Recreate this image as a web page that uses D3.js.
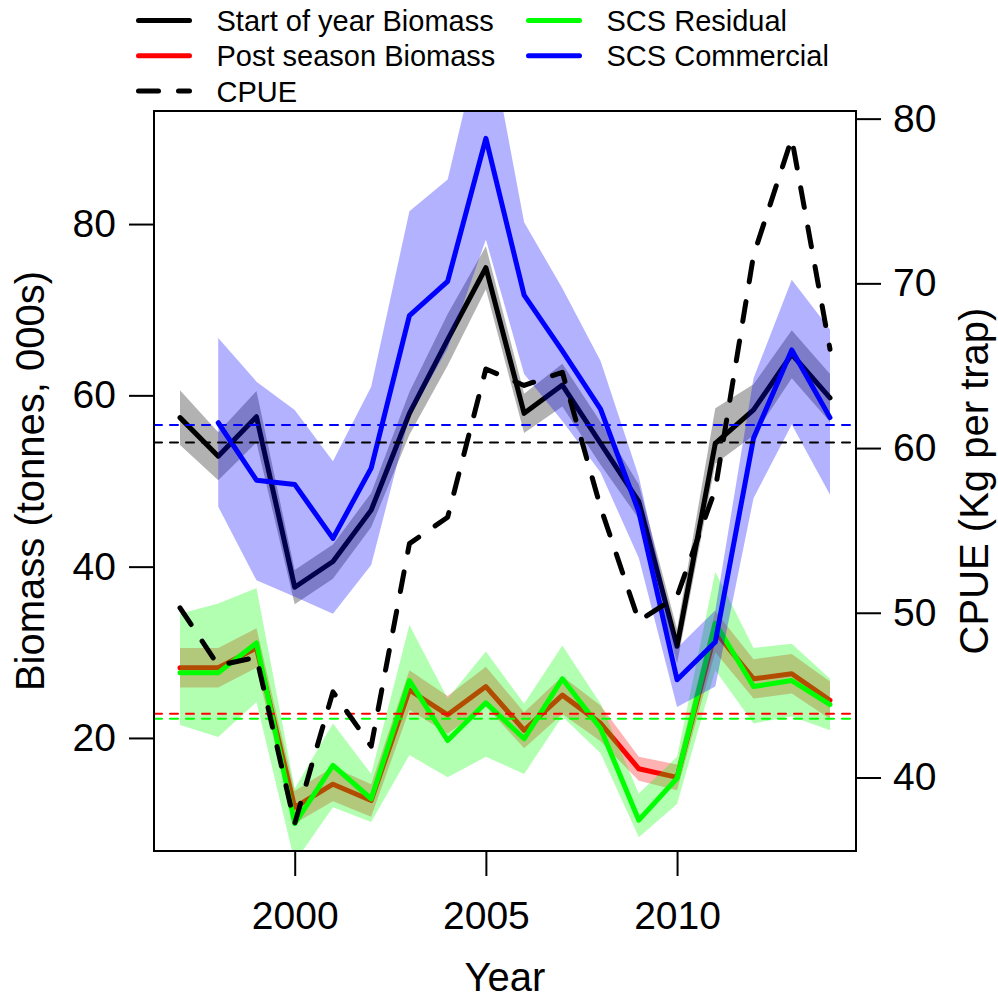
<!DOCTYPE html>
<html>
<head>
<meta charset="utf-8">
<script src="https://cdn.jsdelivr.net/npm/d3@7"></script>
<style>
  body { margin: 0; background: #fff; }
  svg { font-family: "Liberation Sans", Arial, sans-serif; }
</style>
</head>
<body>
<div id="chart"></div>
<script>
var years = [1997, 1998, 1999, 2000, 2001, 2002, 2003, 2004, 2005, 2006, 2007, 2008, 2009, 2010, 2011, 2012, 2013, 2014]

// biomass series, tonnes (000s), with lower / upper interval
var startBiomass = [57.4, 52.9, 57.5, 37.6, 40.6, 46.6, 57.9, 66.5, 74.9, 57.9, 61.2, 54.4, 47.6, 30.7, 54.4, 58.3, 64.8, 59.7]
var startLower   = [54.2, 50.1, 54.5, 35.6, 38.6, 44.6, 55.4, 63.5, 72.4, 55.6, 58.7, 51.9, 45.6, 28.7, 52.0, 55.3, 62.0, 56.9]
var startUpper   = [60.6, 55.7, 60.5, 39.6, 42.6, 48.6, 60.4, 69.5, 77.4, 60.2, 63.7, 56.9, 49.6, 32.7, 58.5, 61.3, 67.6, 62.5]

var postBiomass = [28.2, 28.2, 30.5, 11.9, 14.6, 12.7, 25.6, 22.7, 26.0, 20.9, 25.0, 21.7, 16.4, 15.4, 32.4, 26.9, 27.5, 24.4]
var postLower   = [25.9, 25.9, 28.2, 10.0, 12.6, 10.8, 23.3, 20.5, 23.7, 18.8, 22.8, 19.6, 15.0, 13.9, 30.0, 24.6, 25.2, 22.2]
var postUpper   = [30.5, 30.5, 32.8, 13.8, 16.6, 14.6, 27.9, 24.9, 28.3, 23.0, 27.2, 23.8, 17.8, 16.9, 34.8, 29.2, 29.8, 26.6]

var scsResidual   = [27.6, 27.6, 31.1, 10.0, 16.8, 12.9, 26.7, 19.7, 24.1, 19.9, 26.9, 21.1, 10.4, 15.3, 33.4, 26.0, 26.7, 23.9]
var residualLower = [21.5, 20.1, 24.2, 5.5, 11.9, 10.2, 18.0, 15.4, 17.8, 15.8, 22.5, 18.2, 8.4, 12.3, 27.9, 21.7, 22.5, 20.9]
var residualUpper = [34.5, 35.7, 37.5, 14.1, 21.7, 15.8, 33.2, 24.6, 30.1, 24.0, 30.8, 24.0, 13.5, 17.8, 39.4, 30.5, 31.0, 26.9]

var scsCommercial   = [null, 56.8, 50.1, 49.6, 43.3, 51.5, 69.3, 73.3, 90.0, 71.7, 65.2, 58.4, 46.4, 26.8, 31.2, 55.0, 65.3, 57.4]
var commercialLower = [null, 47.0, 38.4, 36.5, 34.5, 40.2, 57.5, 65.5, 78.2, 62.5, 57.0, 51.0, 41.0, 23.6, 26.0, 48.0, 56.6, 48.4]
var commercialUpper = [null, 66.7, 61.6, 58.3, 52.3, 61.0, 81.5, 85.2, 104.0, 80.2, 72.5, 64.0, 50.5, 30.5, 34.9, 62.0, 73.5, 67.7]

// CPUE, kg per trap (right axis)
var cpue = [50.3, 46.8, 47.3, 37.2, 45.2, 41.9, 54.2, 55.8, 64.8, 63.8, 64.6, 56.4, 49.5, 51.0, 57.5, 71.7, 78.8, 66.0]

var biomassLim = [10, 90]
var leftTicks = [20, 40, 60, 80]
var rightTicks = [40, 50, 60, 70, 80]
var yearTicks = [2000, 2005, 2010]

var margin = {top: 111, right: 142, bottom: 147, left: 154}
var width = 998 - margin.left - margin.right
var height = 998 - margin.top - margin.bottom

// R style axis extension of 4%
function rExpand(lim) {
    var d = (lim[1] - lim[0]) * 0.04
    return [lim[0] - d, lim[1] + d]
}

var x = d3.scaleLinear().domain(rExpand(d3.extent(years))).range([0, width])
var yL = d3.scaleLinear().domain(rExpand(biomassLim)).range([height, 0])
var yR = d3.scaleLinear().domain(rExpand(d3.extent(cpue))).range([height, 0])

function zip(vals, lo, hi) {
    return years.map((yr, i) => ({year: yr, v: vals[i], lo: lo ? lo[i] : null, hi: hi ? hi[i] : null}))
}

var svg = d3.select('#chart')
    .append('svg')
    .attr('width', 998)
    .attr('height', 998)

var g = svg.append('g')
    .attr('transform', `translate(${margin.left}, ${margin.top})`)

g.append('clipPath')
    .attr('id', 'plotclip')
    .append('rect')
    .attr('width', width)
    .attr('height', height)

var plot = g.append('g').attr('clip-path', 'url(#plotclip)')

var band = d3.area()
    .defined(d => d.lo != null)
    .x(d => x(d.year))
    .y0(d => yL(d.lo))
    .y1(d => yL(d.hi))

var lineL = d3.line()
    .defined(d => d.v != null)
    .x(d => x(d.year))
    .y(d => yL(d.v))

var series = [
    {vals: startBiomass, lo: startLower, hi: startUpper, color: '#000000', fill: 'rgba(0,0,0,0.3)'},
    {vals: postBiomass, lo: postLower, hi: postUpper, color: '#ff0000', fill: 'rgba(255,0,0,0.3)'},
    {vals: scsResidual, lo: residualLower, hi: residualUpper, color: '#00ff00', fill: 'rgba(0,255,0,0.3)'},
    {vals: scsCommercial, lo: commercialLower, hi: commercialUpper, color: '#0000ff', fill: 'rgba(0,0,255,0.3)'}
]

series.forEach(s => {
    var data = zip(s.vals, s.lo, s.hi)
    plot.append('path')
        .attr('d', band(data))
        .attr('fill', s.fill)
        .attr('stroke', 'none')
    plot.append('path')
        .attr('d', lineL(data))
        .attr('fill', 'none')
        .attr('stroke', s.color)
        .attr('stroke-width', 5)
        .attr('stroke-linejoin', 'round')
        .attr('stroke-linecap', 'round')
})

// mean reference lines
series.slice().reverse().forEach(s => {
    var m = d3.mean(s.vals.filter(v => v != null))
    plot.append('line')
        .attr('x1', 0)
        .attr('x2', width)
        .attr('y1', yL(m))
        .attr('y2', yL(m))
        .attr('stroke', s.color)
        .attr('stroke-width', 2)
        .attr('stroke-dasharray', '8,8')
        .attr('stroke-linecap', 'round')
})

plot.append('path')
    .attr('d', d3.line().x((d, i) => x(years[i])).y(d => yR(d))(cpue))
    .attr('fill', 'none')
    .attr('stroke', '#000')
    .attr('stroke-width', 5)
    .attr('stroke-dasharray', '20,20')
    .attr('stroke-linecap', 'round')
    .attr('stroke-linejoin', 'round')

// axes
function styleAxis(sel) {
    sel.select('.domain').remove()
    sel.selectAll('.tick line').attr('stroke-width', 2)
    sel.selectAll('.tick text')
        .attr('font-size', 39)
        .attr('font-family', '"Liberation Sans", Arial, sans-serif')
        .attr('fill', '#000')
}

g.append('g')
    .call(d3.axisLeft(yL).tickValues(leftTicks).tickSize(25).tickPadding(13))
    .call(styleAxis)

g.append('g')
    .attr('transform', `translate(${width}, 0)`)
    .call(d3.axisRight(yR).tickValues(rightTicks).tickSize(25).tickPadding(12))
    .call(styleAxis)

g.append('g')
    .attr('transform', `translate(0, ${height})`)
    .call(d3.axisBottom(x).tickValues(yearTicks).tickFormat(d3.format('d')).tickSize(25).tickPadding(25))
    .call(styleAxis)

g.append('rect')
    .attr('width', width)
    .attr('height', height)
    .attr('fill', 'none')
    .attr('stroke', '#000')
    .attr('stroke-width', 2)

// axis titles
svg.append('text')
    .attr('x', margin.left + width / 2)
    .attr('y', 991)
    .attr('text-anchor', 'middle')
    .attr('font-size', 40)
    .text('Year')

svg.append('text')
    .attr('transform', `translate(44, ${margin.top + height / 2}) rotate(-90)`)
    .attr('text-anchor', 'middle')
    .attr('font-size', 40)
    .text('Biomass (tonnes, 000s)')

svg.append('text')
    .attr('transform', `translate(988, ${margin.top + height / 2}) rotate(-90)`)
    .attr('text-anchor', 'middle')
    .attr('font-size', 40)
    .text('CPUE (Kg per trap)')

// legend, two columns above the plot
var legendItems = [
    {label: 'Start of year Biomass', color: '#000000', dash: null, col: 0, row: 0},
    {label: 'Post season Biomass', color: '#ff0000', dash: null, col: 0, row: 1},
    {label: 'CPUE', color: '#000000', dash: '20,20', col: 0, row: 2},
    {label: 'SCS Residual', color: '#00ff00', dash: null, col: 1, row: 0},
    {label: 'SCS Commercial', color: '#0000ff', dash: null, col: 1, row: 1}
]
var colX = [138.5, 528.5]

var legend = svg.append('g')
    .selectAll('g')
    .data(legendItems)
    .enter().append('g')
    .attr('transform', d => `translate(${colX[d.col]}, ${20.5 + d.row * 35.3})`)

legend.append('line')
    .attr('x1', 0)
    .attr('x2', 51)
    .attr('stroke', d => d.color)
    .attr('stroke-width', 5)
    .attr('stroke-linecap', 'round')
    .attr('stroke-dasharray', d => d.dash)

legend.append('text')
    .attr('x', 78)
    .attr('y', 10.4)
    .attr('font-size', 29)
    .text(d => d.label)
</script>
</body>
</html>
